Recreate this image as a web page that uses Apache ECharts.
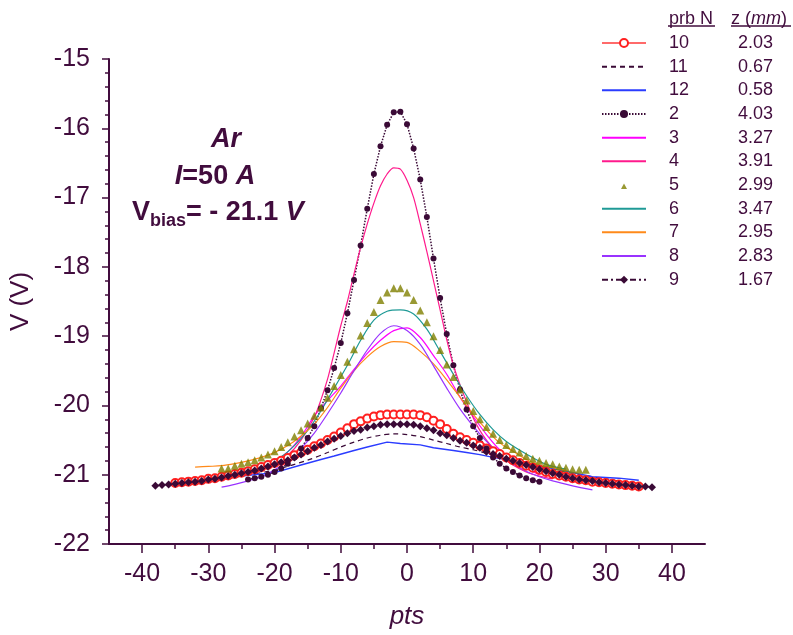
<!DOCTYPE html>
<html><head><meta charset="utf-8">
<script src="https://cdn.jsdelivr.net/npm/echarts@6/dist/echarts.min.js"></script>
<style>html,body{margin:0;padding:0;background:#fff}#c{width:793px;height:635px}</style>
</head><body><div id="c"></div>
<script>
// ---- labels ----
const probeNames = ['10','11','12','2','3','4','5','6','7','8','9'];
const probeZ = ['2.03','0.67','0.58','4.03','3.27','3.91','2.99','3.47','2.95','2.83','1.67'];
const xTickLabels = [-40,-30,-20,-10,0,10,20,30,40];
const xMinorTicks = [-35,-25,-15,-5,5,15,25,35];

// ---- data (pts, V) ----
const p10X = [-35,-34,-33,-32,-31,-30,-29,-28,-27,-26,-25,-24,-23,-22,-21,-20,-19,-18,-17,-16,-15,-14,-13,-12,-11,-10,-9,-8,-7,-6,-5,-4,-3,-2,-1,0,1,2,3,4,5,6,7,8,9,10,11,12,13,14,15,16,17,18,19,20,21,22,23,24,25,26,27,28,29,30,31,32,33,34,35];
const p10V = [-21.12,-21.11,-21.10,-21.09,-21.08,-21.06,-21.05,-21.03,-21.01,-20.99,-20.97,-20.95,-20.92,-20.89,-20.86,-20.83,-20.80,-20.76,-20.72,-20.68,-20.64,-20.59,-20.55,-20.50,-20.45,-20.39,-20.33,-20.27,-20.23,-20.19,-20.16,-20.14,-20.13,-20.13,-20.13,-20.13,-20.13,-20.14,-20.17,-20.22,-20.27,-20.34,-20.41,-20.46,-20.50,-20.54,-20.58,-20.62,-20.66,-20.70,-20.75,-20.79,-20.83,-20.87,-20.90,-20.93,-20.96,-20.99,-21.01,-21.03,-21.05,-21.07,-21.08,-21.10,-21.11,-21.12,-21.13,-21.14,-21.15,-21.16,-21.17];

const p11X = [-35,-30,-25,-20,-15,-12,-10,-8,-6,-4,-2,0,2,4,6,8,10,12,15,20,25,30,35];
const p11V = [-21.14,-21.10,-21.02,-20.93,-20.79,-20.68,-20.60,-20.53,-20.47,-20.43,-20.41,-20.42,-20.45,-20.50,-20.55,-20.60,-20.64,-20.69,-20.77,-20.88,-20.98,-21.06,-21.13];

const p12X = [-35,-30,-26,-20,-16,-13,-11,-8,-6,-3,-1,2,4,7,9,11,13,16,20,24,28,32,35];
const p12V = [-21.08,-21.05,-21.03,-20.97,-20.86,-20.78,-20.73,-20.65,-20.60,-20.53,-20.55,-20.57,-20.61,-20.65,-20.68,-20.71,-20.75,-20.80,-20.87,-20.95,-21.03,-21.05,-21.08];

const p2X = [-24,-23,-22,-21,-20,-19,-18,-17,-16,-15,-14,-13,-12,-11,-10,-9,-8,-7,-6,-5,-4,-3,-2,-1,0,1,2,3,4,5,6,7,8,9,10,11,12,13,14,15,16,17,18,19,20];
const p2V = [-21.07,-21.05,-21.03,-21.00,-20.96,-20.91,-20.84,-20.75,-20.62,-20.47,-20.30,-20.04,-19.78,-19.46,-19.10,-18.67,-18.19,-17.69,-17.16,-16.66,-16.26,-15.95,-15.77,-15.76,-15.94,-16.29,-16.74,-17.28,-17.88,-18.45,-18.97,-19.42,-19.77,-20.06,-20.30,-20.47,-20.62,-20.75,-20.84,-20.91,-20.96,-21.01,-21.05,-21.08,-21.10];

const p3X = [-24,-22,-20,-18,-16,-14,-12,-10,-8,-6,-4,-2,0,2,4,6,8,10,12,14,16,18,20];
const p3V = [-20.96,-20.90,-20.81,-20.67,-20.45,-20.15,-19.93,-19.72,-19.48,-19.25,-19.06,-18.92,-18.88,-19.02,-19.28,-19.55,-19.88,-20.16,-20.42,-20.64,-20.79,-20.91,-21.00];

const p4X = [-25,-22,-20,-18,-16,-14,-13,-12,-11,-10,-9,-8,-7,-6,-5,-4,-3,-2,-1,0,1,2,3,4,5,6,7,8,9,10,11,12,14,16,18,20,22];
const p4V = [-20.98,-20.92,-20.85,-20.72,-20.50,-20.17,-19.92,-19.62,-19.24,-18.85,-18.50,-18.10,-17.72,-17.38,-17.08,-16.83,-16.66,-16.57,-16.59,-16.75,-17.00,-17.38,-17.78,-18.20,-18.62,-19.05,-19.42,-19.70,-19.95,-20.18,-20.36,-20.50,-20.72,-20.86,-20.96,-21.02,-21.06];

const p5X = [-28,-27,-26,-25,-24,-23,-22,-21,-20,-19,-18,-17,-16,-15,-14,-13,-12,-11,-10,-9,-8,-7,-6,-5,-4,-3,-2,-1,0,1,2,3,4,5,6,7,8,9,10,11,12,13,14,15,16,17,18,19,20,21,22,23,24,25,26,27];
const p5V = [-20.91,-20.91,-20.87,-20.84,-20.82,-20.79,-20.75,-20.71,-20.66,-20.60,-20.53,-20.45,-20.36,-20.26,-20.15,-20.03,-19.89,-19.72,-19.56,-19.37,-19.19,-18.99,-18.81,-18.65,-18.48,-18.37,-18.31,-18.31,-18.37,-18.48,-18.63,-18.80,-19.00,-19.20,-19.41,-19.59,-19.77,-19.93,-20.08,-20.20,-20.31,-20.41,-20.50,-20.57,-20.63,-20.68,-20.73,-20.77,-20.80,-20.83,-20.85,-20.88,-20.90,-20.92,-20.93,-20.93];

const p6X = [-23,-21,-19,-17,-15,-13,-11,-9,-7,-5,-3,-1,1,3,5,7,9,11,13,15,18,21,24];
const p6V = [-20.88,-20.82,-20.74,-20.58,-20.36,-20.08,-19.75,-19.42,-19.06,-18.77,-18.64,-18.62,-18.68,-18.90,-19.22,-19.55,-19.86,-20.13,-20.35,-20.52,-20.70,-20.85,-20.92];

const p7X = [-32,-30,-28,-26,-24,-22,-20,-18,-16,-14,-12,-10,-8,-6,-4,-2,0,2,4,6,8,10,12,14,16,18,20,22,24];
const p7V = [-20.89,-20.88,-20.87,-20.84,-20.80,-20.75,-20.68,-20.58,-20.44,-20.27,-20.03,-19.75,-19.50,-19.30,-19.15,-19.08,-19.09,-19.22,-19.40,-19.63,-19.88,-20.13,-20.35,-20.54,-20.66,-20.78,-20.86,-20.90,-20.94];

const p8X = [-28,-26,-24,-22,-20,-18,-16,-14,-12,-10,-8,-6,-4,-2,0,2,4,6,8,10,12,14,16,18,20,22,25,28];
const p8V = [-21.18,-21.14,-21.09,-21.03,-20.93,-20.80,-20.62,-20.40,-20.12,-19.82,-19.50,-19.20,-18.96,-18.85,-18.92,-19.12,-19.43,-19.75,-20.05,-20.30,-20.52,-20.70,-20.84,-20.95,-21.03,-21.09,-21.16,-21.22];

const p9X = [-38,-37,-36,-35,-34,-33,-32,-31,-30,-29,-28,-27,-26,-25,-24,-23,-22,-21,-20,-19,-18,-17,-16,-15,-14,-13,-12,-11,-10,-9,-8,-7,-6,-5,-4,-3,-2,-1,0,1,2,3,4,5,6,7,8,9,10,11,12,13,14,15,16,17,18,19,20,21,22,23,24,25,26,27,28,29,30,31,32,33,34,35,36,37];
const p9V = [-21.16,-21.15,-21.14,-21.13,-21.12,-21.11,-21.10,-21.09,-21.07,-21.06,-21.04,-21.02,-21.00,-20.98,-20.96,-20.94,-20.91,-20.88,-20.85,-20.82,-20.79,-20.75,-20.71,-20.66,-20.61,-20.57,-20.52,-20.48,-20.44,-20.40,-20.37,-20.35,-20.32,-20.30,-20.28,-20.27,-20.27,-20.27,-20.27,-20.28,-20.30,-20.33,-20.36,-20.40,-20.43,-20.47,-20.51,-20.54,-20.58,-20.61,-20.67,-20.70,-20.73,-20.77,-20.80,-20.83,-20.86,-20.89,-20.92,-20.95,-20.98,-21.00,-21.03,-21.05,-21.07,-21.08,-21.09,-21.11,-21.12,-21.13,-21.14,-21.15,-21.16,-21.17,-21.17,-21.18];

const zip = (xs, vs) => xs.map((x, i) => [x, vs[i]]);
const INK = '#410c3d';
const FONT = '"Liberation Sans", Arial, sans-serif';

const lineOnly = {'11':1,'12':1,'3':1,'4':1,'6':1,'7':1,'8':1};
const zOf = {};
probeNames.forEach((n, i) => { zOf[n] = probeZ[i]; });

function lineSeries(name, xs, vs, color, extra) {
  return Object.assign({
    name, type: 'line', data: zip(xs, vs), symbol: 'none', smooth: 0.3,
    lineStyle: {color, width: 1.2}, itemStyle: {color}, z: 2
  }, extra || {});
}

const series = [
  lineSeries('10', p10X, p10V, '#ff2020', {
    symbol: 'emptyCircle', symbolSize: 8, smooth: false,
    itemStyle: {color: '#ff2020', borderWidth: 1.2},
    lineStyle: {color: '#ff6a6a', width: 1}
  }),
  lineSeries('11', p11X, p11V, '#3a0a36', {lineStyle: {color: '#3a0a36', width: 1.2, type: [5, 4]}}),
  lineSeries('12', p12X, p12V, '#2b3cff', {smooth: false, lineStyle: {color: '#2b3cff', width: 1.4}}),
  lineSeries('2', p2X, p2V, '#3a0a36', {
    symbol: 'circle', symbolSize: 6, smooth: false,
    lineStyle: {color: '#3a0a36', width: 1.5, type: [1.5, 1.5]}
  }),
  lineSeries('3', p3X, p3V, '#ff00ff'),
  lineSeries('4', p4X, p4V, '#ff1a8c'),
  {name: '5', type: 'scatter', data: zip(p5X, p5V), symbol: 'triangle', symbolSize: 8,
   itemStyle: {color: '#808000'}, z: 3},
  lineSeries('6', p6X, p6V, '#1f9a96'),
  lineSeries('7', p7X, p7V, '#ff8a1a'),
  lineSeries('8', p8X, p8V, '#9933ff'),
  lineSeries('9', p9X, p9V, '#3a0a36', {
    symbol: 'diamond', symbolSize: 8, smooth: false,
    lineStyle: {color: '#3a0a36', width: 1.2, type: [6, 3, 2, 3]}
  })
];

const legendData = probeNames.map(n => {
  const d = {name: n};
  if (lineOnly[n]) d.itemStyle = {opacity: 0};
  if (n === '5') d.icon = 'path://M0,0M44,10M19,9L25,9L22,3.5Z';
  return d;
});

const chart = echarts.init(document.getElementById('c'), null, {renderer: 'canvas'});
chart.setOption({
  animation: false,
  backgroundColor: '#ffffff',
  textStyle: {fontFamily: FONT, color: INK},
  grid: {left: 104, top: 59, width: 601, height: 485, containLabel: false},
  xAxis: [{
    type: 'value', min: -45, max: 45, interval: 5,
    name: 'pts', nameLocation: 'middle', nameGap: 60,
    nameTextStyle: {fontSize: 26, fontStyle: 'italic', color: INK, fontFamily: FONT},
    axisLine: {onZero: false, lineStyle: {color: INK, width: 2}},
    axisTick: {customValues: xTickLabels, length: 9, lineStyle: {color: INK, width: 1.5}},
    axisLabel: {customValues: xTickLabels, fontSize: 25, color: INK, margin: 18, fontFamily: FONT},
    splitLine: {show: false}
  }, {
    type: 'value', min: -45, max: 45, position: 'bottom',
    axisLine: {show: false, onZero: false},
    axisTick: {customValues: xMinorTicks, length: 5, lineStyle: {color: INK, width: 1.5}},
    axisLabel: {show: false},
    splitLine: {show: false}
  }],
  yAxis: {
    type: 'value', min: -22, max: -15, interval: 1,
    name: 'V (V)', nameLocation: 'middle', nameGap: 75,
    nameTextStyle: {fontSize: 26, color: INK, fontFamily: FONT},
    axisLine: {onZero: false, lineStyle: {color: INK, width: 2}},
    axisTick: {length: 7, lineStyle: {color: INK, width: 1.5}},
    minorTick: {show: true, splitNumber: 5, length: 4, lineStyle: {color: INK, width: 1.5}},
    axisLabel: {fontSize: 25, color: INK, margin: 19, fontFamily: FONT},
    splitLine: {show: false}
  },
  legend: {
    data: legendData, orient: 'vertical', left: 596, top: 29,
    itemWidth: 44, itemHeight: 10, itemGap: 5.67,
    selectedMode: false,
    formatter: n => '{g|}{n|' + n + '}{z|' + zOf[n] + '}',
    textStyle: {
      color: INK, fontSize: 18, fontFamily: FONT,
      rich: {
        g: {width: 18},
        n: {width: 54, fontSize: 18, color: INK, fontFamily: FONT},
        z: {width: 50, align: 'right', fontSize: 18, color: INK, fontFamily: FONT}
      }
    }
  },
  graphic: [
    {type: 'text', left: 669, top: 10, style: {text: 'prb N', fontSize: 18, fontFamily: FONT, fill: INK}},
    {type: 'text', left: 731, top: 10, style: {
      text: '{a|z (}{b|mm}{a|)}', fontFamily: FONT,
      rich: {a: {fontSize: 18, fill: INK, fontFamily: FONT}, b: {fontSize: 18, fontStyle: 'italic', fill: INK, fontFamily: FONT}}
    }},
    {type: 'line', shape: {x1: 668, y1: 26, x2: 715, y2: 26}, style: {stroke: INK, lineWidth: 1.5}},
    {type: 'line', shape: {x1: 731, y1: 26, x2: 791, y2: 26}, style: {stroke: INK, lineWidth: 1.5}},
    {type: 'text', x: 226, y: 140, style: {
      text: 'Ar', fontSize: 27, fontWeight: 'bold', fontStyle: 'italic', fontFamily: FONT, fill: INK,
      align: 'center', verticalAlign: 'middle'}},
    {type: 'text', x: 215, y: 177, style: {
      text: '{i|I}{b|=50 }{i|A}', fontFamily: FONT, align: 'center', verticalAlign: 'middle',
      rich: {
        i: {fontSize: 27, fontWeight: 'bold', fontStyle: 'italic', fill: INK, fontFamily: FONT},
        b: {fontSize: 27, fontWeight: 'bold', fill: INK, fontFamily: FONT}
      }}},
    {type: 'text', x: 132, y: 213, style: {
      text: '{b|V}{s|bias}{b|= - 21.1 }{i|V}', fontFamily: FONT, align: 'left', verticalAlign: 'middle',
      rich: {
        b: {fontSize: 27, fontWeight: 'bold', fill: INK, fontFamily: FONT},
        s: {fontSize: 18, fontWeight: 'bold', fill: INK, fontFamily: FONT, padding: [16, 0, 0, 0]},
        i: {fontSize: 27, fontWeight: 'bold', fontStyle: 'italic', fill: INK, fontFamily: FONT}
      }}}
  ],
  series: series
});
</script>
</body></html>
